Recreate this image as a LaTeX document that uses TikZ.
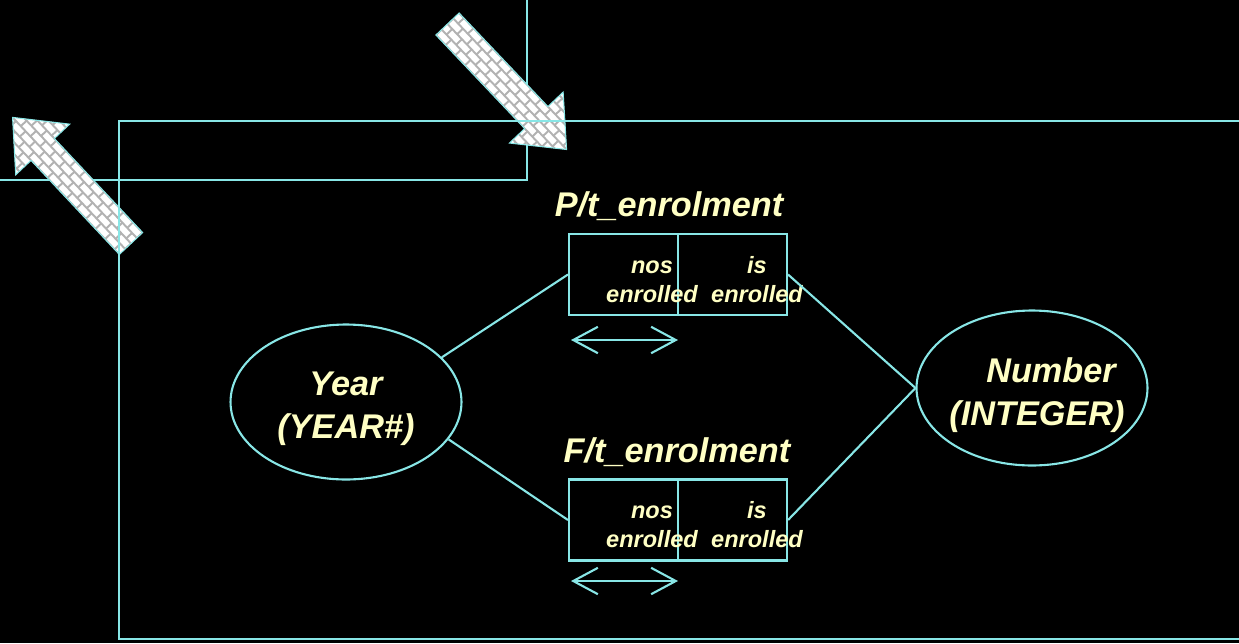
\documentclass[tikz,border=0pt]{standalone}
\usepackage{fontspec}
\setmainfont{Liberation Sans}
\usetikzlibrary{arrows.meta,shapes.geometric}
\definecolor{wire}{HTML}{88E6E6}
\definecolor{cream}{HTML}{FFFFC4}

\begin{document}
\begin{tikzpicture}[x=0.02cm,y=-0.02cm,
    ln/.style={wire,line width=1.2pt},
    cell/.style={draw=wire,line width=1.2pt,minimum width=2.18cm,minimum height=1.62cm,inner sep=0pt},
    ent/.style={ellipse,draw=wire,line width=1.2pt,minimum width=4.62cm,minimum height=3.1cm,inner sep=0pt},
    big/.style={text=cream,align=center,font=\bfseries\itshape\fontsize{19.5}{24.4}\selectfont},
    small/.style={text=cream,align=center,font=\bfseries\itshape\fontsize{13.4}{16.4}\selectfont},
    brick/.style={gray!60,line width=1.1pt}]
  % background
  \fill[black] (0,0) rectangle (1239,643);
  \useasboundingbox (0,0) rectangle (1239,643);
  % upper left frame
  \draw[ln] (0,180) -- (527,180) -- (527,0);
  % brick arrows
  \foreach \ax/\ay/\ang in {447.5/24/-46.5, 131/243.5/133.2}{
    \begin{scope}[shift={(\ax,\ay)},rotate=\ang]
      \begin{scope}
        \clip (0,-16) -- (129,-16) -- (129,-37) -- (173,0) -- (129,37) -- (129,16) -- (0,16) -- cycle;
        \fill[white] (-5,-40) rectangle (180,40);
        \foreach \r in {0,...,9}{
          \draw[brick] (-5,-40+\r*8) -- (180,-40+\r*8);
          \foreach \c in {0,...,13}
            \draw[brick] ({\c*14+7*mod(\r,2)},-40+\r*8) -- ++(0,8);
        }
      \end{scope}
      \draw[wire,line width=0.6pt] (0,-16) -- (129,-16) -- (129,-37) -- (173,0) -- (129,37) -- (129,16) -- (0,16) -- cycle;
    \end{scope}
  }
  % main frame
  \draw[ln] (1239,121) -- (119,121) -- (119,639) -- (1239,639);
  % entities
  \node[ent] (year) at (346,402) {};
  \node[ent] (num) at (1032,388) {};
  \node[big] (yearT) at (346,409) {Year\\(YEAR\#)};
  \node[big] (numT) at (1037,395) {\hspace*{0.56cm}Number\\(INTEGER)};
  % fact boxes
  \node[cell] (pnos) at (623.5,274.5) {};
  \node[cell] (pis) at (732.5,274.5) {};
  \node[cell] (fnos) at (623.5,520) {};
  \node[cell] (fis) at (732.5,520) {};
  \node[big] (ptitle) at (669,206) {P/t\_enrolment};
  \node[big] (ftitle) at (677,452) {F/t\_enrolment};
  \node[small] (pnosT) at (652,282) {nos\strut\\enrolled\strut};
  \node[small] (pisT) at (757,282) {is\strut\\enrolled\strut};
  \node[small] (fnosT) at (652,527) {nos\strut\\enrolled\strut};
  \node[small] (fisT) at (757,527) {is\strut\\enrolled\strut};
  % roles
  \draw[ln] (year.25) -- (pnos.west);
  \draw[ln] (year.-20) -- (fnos.west);
  \draw[ln] (pis.east) -- (num.west);
  \draw[ln] (fis.east) -- (num.west);
  % uniqueness
  \coordinate (pa) at (571,340);
  \coordinate (pb) at (678,340);
  \coordinate (fa) at (571,581);
  \coordinate (fb) at (678,581);
  \draw[ln,{Straight Barb[length=14pt,width=15pt]}-{Straight Barb[length=14pt,width=15pt]}] (pa) -- (pb);
  \draw[ln,{Straight Barb[length=14pt,width=15pt]}-{Straight Barb[length=14pt,width=15pt]}] (fa) -- (fb);
\end{tikzpicture}
\end{document}
